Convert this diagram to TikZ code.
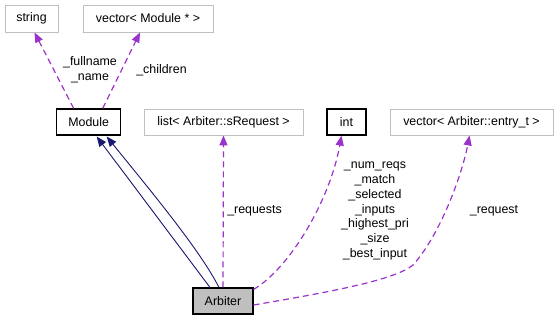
\documentclass[tikz,border=0pt]{standalone}
\usepackage{fontspec}
\setmainfont{Liberation Sans}
\usetikzlibrary{arrows.meta}
\definecolor{memberclr}{HTML}{9A32CD}
\definecolor{inhclr}{HTML}{191970}
\definecolor{extclr}{HTML}{BFBFBF}
\tikzset{
    cls/.style={
           rectangle,
           draw=black, line width=1.1pt,
           minimum height=26pt,
           inner sep=0pt,
           text centered,
           font=\fontsize{12.4}{14.7}\selectfont,
           },
    ext/.style={cls, draw=extclr, line width=0.9pt},
    member/.style={memberclr, line width=1.2pt, dash pattern=on 6pt off 4pt,
           -{Triangle[length=10pt,width=8pt]}},
    inherit/.style={inhclr, line width=0.9pt,
           -{Triangle[length=10pt,width=8pt]}},
    lbl/.style={align=center, text=black, font=\fontsize{12.4}{14.7}\selectfont, inner sep=0pt},
}

\begin{document}
\begin{tikzpicture}[x=1pt,y=-1pt]
        \useasboundingbox (0,0) rectangle (559,320);
        \node[ext, minimum width=53pt, minimum height=27pt] (str) at (31.5,18.5) {string};
        \node[ext, minimum width=130pt, minimum height=27pt] (vmod) at (148,18.5) {vector< Module * >};
        \node[cls, minimum width=64pt] (mod) at (88.7,122) {Module};
        \node[ext, minimum width=159pt] (lst) at (223.5,122) {list< Arbiter::sRequest >};
        \node[cls, minimum width=39pt] (int) at (346.5,122) {int};
        \node[ext, minimum width=163pt] (vent) at (471.5,122) {vector< Arbiter::entry\_t >};
        \node[cls, fill=extclr, minimum width=60pt] (arb) at (223,301) {Arbiter};

        % members of Module
        \draw[member] ([xshift=-15pt]mod.north) -- ([xshift=3pt]str.south)
            node[lbl] at (90,70) {\_fullname\\\_name};
        \draw[member] ([xshift=14pt]mod.north) -- ([xshift=-8pt]vmod.south)
            node[lbl] at (161.5,70) {\_children};

        % Arbiter derives from Module
        \draw[inherit] ([xshift=-13pt]arb.north) -- ([xshift=8pt,yshift=-1pt]mod.south);
        \draw[inherit] ([xshift=-4pt]arb.north) .. controls (200,250) and (150,190) .. ([xshift=18pt,yshift=-1pt]mod.south);

        % members of Arbiter
        \draw[member] (arb.north) -- (lst.south)
            node[lbl] at (254.5,211) {\_requests};
        \draw[member] ([yshift=-2pt]arb.north east) .. controls (290,268) and (330,200) .. ([xshift=-5pt]int.south)
            node[lbl] at (375,211) {\_num\_reqs\\\_match\\\_selected\\\_inputs\\\_highest\_pri\\\_size\\\_best\_input};
        \draw[member] ([yshift=-4pt]arb.east) .. controls (330,292) and (395,280) .. (413,265)
            .. controls (440,235) and (462,175) .. ([xshift=-2pt]vent.south)
            node[lbl] at (494,211) {\_request};
    \end{tikzpicture}
\end{document}
